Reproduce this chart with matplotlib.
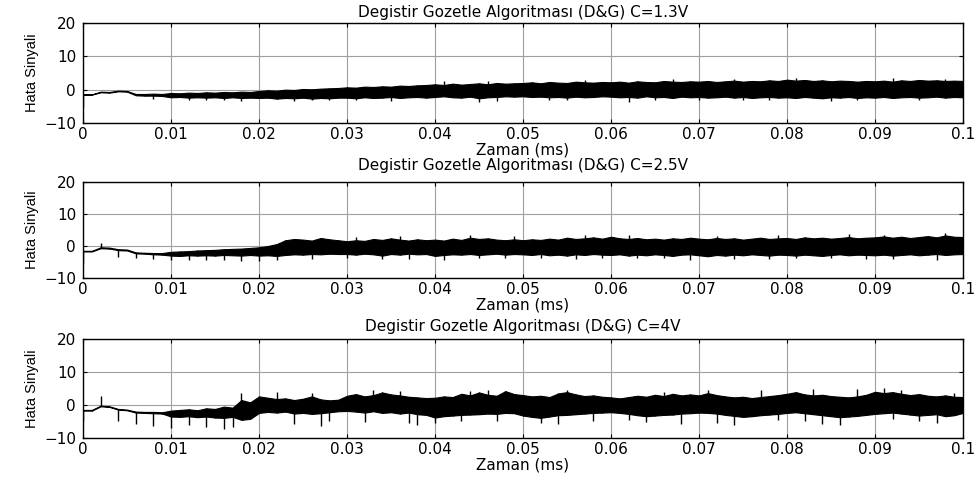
import numpy as np
import matplotlib
matplotlib.use("Agg")
import matplotlib.pyplot as plt

plt.rcParams['font.family'] = ['DejaVu Sans']

# sample times of the envelope (ms), one every 0.001 ms
t = np.arange(101) * 0.001

x_ticks = [0, 0.01, 0.02, 0.03, 0.04, 0.05, 0.06, 0.07, 0.08, 0.09, 0.1]
x_labels = ["0", "0.01", "0.02", "0.03", "0.04", "0.05", "0.06", "0.07", "0.08", "0.09", "0.1"]
y_ticks = [-10, 0, 10, 20]

titles = ["Degistir Gozetle Algoritması (D&G) C=1.3V",
          "Degistir Gozetle Algoritması (D&G) C=2.5V",
          "Degistir Gozetle Algoritması (D&G) C=4V"]

# C=1.3V : upper / lower envelope of the error signal
hi_13 = [-1.4, -1.4, -0.6, -0.7, -0.3, -0.4, -1.3, -1.3, -1.2, -1.3,
         -1.0, -1.1, -0.9, -1.0, -0.8, -0.9, -0.7, -0.8, -0.6, -0.7,
         -0.4, -0.2, -0.3, 0.0, -0.1, 0.2, 0.1, 0.3, 0.4, 0.5,
         0.7, 0.6, 0.9, 0.8, 1.0, 0.9, 1.2, 1.1, 1.3, 1.4,
         1.6, 1.4, 1.8, 1.5, 1.7, 1.9, 1.6, 2.0, 1.8, 1.9,
         2.0, 2.2, 1.9, 2.3, 2.1, 2.0, 2.4, 2.2, 2.1, 2.3,
         2.2, 2.4, 2.1, 2.5, 2.3, 2.2, 2.6, 2.4, 2.3, 2.5,
         2.4, 2.6, 2.3, 2.5, 2.7, 2.4, 2.6, 2.5, 2.8, 2.6,
         3.0, 2.7, 2.9, 2.6, 2.8, 2.5, 2.7, 2.6, 2.4, 2.6,
         2.5, 2.7, 2.4, 2.8, 2.6, 2.9, 2.7, 2.8, 2.6, 2.7,
         2.6]
lo_13 = [-1.5, -1.5, -0.8, -0.9, -0.5, -0.6, -1.7, -1.8, -1.8, -1.9,
         -2.3, -2.2, -2.4, -2.3, -2.4, -2.3, -2.5, -2.3, -2.5, -2.4,
         -2.5, -2.4, -2.7, -2.5, -2.6, -2.4, -2.7, -2.5, -2.6, -2.4,
         -2.4, -2.6, -2.3, -2.5, -2.4, -2.2, -2.5, -2.3, -2.2, -2.4,
         -2.2, -2.0, -2.3, -2.4, -2.1, -2.6, -2.3, -2.2, -2.0, -2.1,
         -2.0, -2.2, -2.1, -2.3, -2.2, -2.4, -2.1, -2.3, -2.2, -2.0,
         -2.1, -2.3, -2.2, -2.4, -2.0, -2.3, -2.2, -2.5, -2.1, -2.3,
         -2.2, -2.4, -2.3, -2.1, -2.4, -2.2, -2.5, -2.3, -2.2, -2.4,
         -2.3, -2.5, -2.2, -2.4, -2.6, -2.3, -2.4, -2.2, -2.5, -2.3,
         -2.4, -2.2, -2.5, -2.3, -2.2, -2.4, -2.3, -2.1, -2.4, -2.2,
         -2.3]
spike_t_13 = [0.0, 0.008, 0.012, 0.014, 0.016, 0.018, 0.024, 0.026, 0.028,
              0.031, 0.035, 0.041, 0.045, 0.046, 0.047, 0.053, 0.055, 0.057,
              0.062, 0.065, 0.067, 0.070, 0.074, 0.075, 0.078, 0.081, 0.085,
              0.088, 0.092, 0.095, 0.098]
spike_v_13 = [-5.2, -2.8, -3.0, -3.2, -3.0, -3.3, -3.5, -3.2, -3.1,
              -3.0, -3.3, 2.6, -3.6, 2.5, -3.3, -3.1, -3.2, 3.0,
              -3.7, -3.0, 3.2, -3.0, 3.3, -3.2, -3.2, 3.6, -3.4,
              -3.1, 3.6, -3.0, 3.2]

# C=2.5V
hi_25 = [-1.5, -1.5, -0.4, -0.5, -1.0, -1.1, -2.0, -2.1, -2.2, -2.2,
         -1.8, -1.7, -1.6, -1.4, -1.3, -1.2, -1.0, -0.9, -0.8, -0.6,
         -0.4, 0.0, 0.6, 1.8, 2.2, 2.0, 1.7, 2.5, 2.1, 1.8,
         1.5, 1.8, 1.6, 2.2, 1.9, 2.4, 2.0, 1.7, 2.1, 1.8,
         2.0, 1.7, 2.3, 1.9, 2.6, 2.2, 2.4, 2.0, 1.8, 2.1,
         1.8, 2.1, 1.9, 2.3, 2.0, 2.6, 2.2, 2.4, 2.7, 2.3,
         2.9, 2.4, 2.2, 2.5, 2.1, 2.3, 2.0, 2.4, 2.2, 2.6,
         2.3, 2.1, 2.5, 2.2, 2.4, 2.0, 2.3, 2.6, 2.2, 2.4,
         2.5, 2.2, 2.7, 2.4, 2.6, 2.3, 2.5, 2.8, 2.4, 2.6,
         2.7, 3.0, 2.6, 2.9, 2.5, 2.8, 3.1, 2.7, 3.3, 2.9,
         2.8]
lo_25 = [-1.7, -1.7, -0.7, -0.8, -1.3, -1.4, -2.3, -2.4, -2.6, -2.7,
         -3.0, -3.1, -2.9, -3.0, -2.9, -3.0, -2.8, -2.9, -3.0, -2.8,
         -3.0, -2.9, -3.1, -2.8, -2.6, -2.7, -2.5, -2.6, -2.4, -2.5,
         -2.5, -2.7, -2.4, -2.6, -3.0, -2.5, -2.7, -2.4, -2.6, -2.5,
         -3.1, -2.8, -2.6, -2.7, -2.5, -2.8, -2.6, -2.4, -2.7, -2.5,
         -2.6, -2.8, -2.5, -2.9, -2.7, -3.0, -2.6, -2.8, -2.5, -2.7,
         -2.8, -2.6, -3.0, -2.7, -2.9, -2.6, -2.8, -3.1, -2.7, -2.6,
         -2.9, -3.2, -2.8, -3.0, -2.7, -2.9, -2.6, -2.8, -3.0, -2.7,
         -2.8, -3.0, -2.7, -2.9, -3.1, -2.8, -2.6, -2.9, -2.7, -2.8,
         -2.9, -2.7, -3.0, -2.8, -2.6, -2.9, -2.7, -2.5, -2.8, -2.6,
         -2.5]
spike_t_25 = [0.0, 0.002, 0.004, 0.006, 0.008, 0.010, 0.012, 0.014, 0.016,
              0.018, 0.020, 0.022, 0.026, 0.030, 0.031, 0.034, 0.036, 0.037,
              0.041, 0.044, 0.045, 0.048, 0.049, 0.052, 0.056, 0.057, 0.059,
              0.062, 0.063, 0.066, 0.069, 0.072, 0.074, 0.078, 0.079, 0.081,
              0.085, 0.087, 0.089, 0.091, 0.092, 0.097, 0.098]
spike_v_25 = [-5.3, 0.9, -3.4, -3.8, -4.2, -4.5, -4.4, -4.3, -4.5,
              -4.6, -4.7, -4.3, -4.0, -3.8, 2.8, -4.2, 3.1, -4.0,
              -4.3, 3.5, -3.8, -3.9, 3.2, -3.9, -4.1, 3.3, -3.6,
              3.4, -3.9, -3.7, -4.3, 3.1, -4.1, -4.0, 3.3, -3.8,
              -3.9, 3.6, -4.0, 3.5, -4.2, -4.5, 4.2]

# C=4V
hi_4 = [-1.5, -1.5, -0.2, -0.4, -1.2, -1.4, -2.0, -2.1, -2.1, -2.2,
        -1.7, -1.5, -1.3, -1.6, -1.0, -1.2, -0.5, -0.8, 1.5, 0.8,
        2.6, 2.2, 1.8, 2.0, 1.5, 1.9, 2.6, 1.7, 1.4, 1.6,
        2.8, 3.3, 2.6, 3.0, 3.8, 3.2, 2.9, 2.5, 2.3, 2.1,
        2.2, 2.6, 2.4, 3.4, 2.9, 3.8, 3.1, 2.8, 4.2, 3.3,
        3.0, 2.6, 2.8, 2.4, 3.5, 3.9, 3.2, 2.7, 2.9, 2.5,
        2.3, 2.0, 2.4, 2.8, 2.5, 3.1, 2.7, 3.4, 2.9, 3.2,
        2.9, 3.6, 3.0, 2.6, 2.3, 2.5, 2.1, 2.4, 2.7, 3.0,
        3.4, 3.9, 3.2, 2.9, 3.1, 2.7, 2.5, 2.3, 2.6, 3.1,
        4.0, 3.6, 3.9, 3.4, 3.0, 3.3, 2.8, 2.6, 2.9, 2.5,
        2.4]
lo_4 = [-1.7, -1.7, -0.4, -0.6, -1.4, -1.6, -2.3, -2.4, -2.5, -2.6,
        -3.5, -3.6, -3.4, -3.7, -3.5, -3.8, -3.9, -3.6, -4.5, -4.2,
        -2.4, -2.1, -2.3, -2.0, -2.6, -2.4, -2.7, -2.5, -2.2, -1.9,
        -1.8, -2.0, -2.3, -1.9, -2.4, -2.2, -2.6, -2.3, -2.8, -3.0,
        -3.8, -3.4, -3.2, -3.0, -2.9, -2.8, -2.6, -2.7, -2.4, -2.5,
        -3.2, -3.6, -3.9, -3.5, -3.1, -3.0, -2.8, -2.6, -2.4, -2.3,
        -2.2, -2.4, -2.7, -3.1, -3.4, -3.2, -3.0, -2.9, -2.6, -2.5,
        -2.3, -2.4, -2.6, -3.0, -3.3, -3.6, -3.4, -3.1, -2.9, -2.7,
        -2.4, -2.2, -2.5, -2.8, -3.1, -3.4, -3.7, -3.5, -3.3, -3.0,
        -2.7, -2.5, -2.3, -2.6, -2.9, -3.2, -3.0, -2.8, -3.4, -3.1,
        -2.4]
spike_t_4 = [0.0, 0.002, 0.004, 0.006, 0.008, 0.010, 0.012, 0.014, 0.016,
             0.017, 0.018, 0.022, 0.024, 0.026, 0.027, 0.028, 0.032, 0.033,
             0.036, 0.037, 0.038, 0.040, 0.043, 0.044, 0.046, 0.047, 0.052,
             0.054, 0.055, 0.058, 0.062, 0.064, 0.066, 0.068, 0.071, 0.072,
             0.074, 0.077, 0.079, 0.082, 0.083, 0.084, 0.086, 0.088, 0.091,
             0.092, 0.093, 0.095, 0.097, 0.099]
spike_v_4 = [-5.0, 2.7, -4.8, -5.8, -6.4, -7.0, -6.2, -6.6, -7.3,
             -6.8, 3.5, 3.8, -5.8, 3.6, -6.3, -5.0, -5.2, 4.5,
             4.2, -5.5, -6.0, -5.5, -5.0, 4.3, 4.6, -4.8, -5.5,
             -5.9, 4.4, -4.9, -4.6, -5.2, 4.0, -5.7, 4.6, -5.6,
             -6.0, 4.4, -4.5, -5.0, 4.9, -5.8, -6.1, 4.8, 5.0,
             -4.3, 4.6, -4.9, -5.5, 3.6]

series = [(hi_13, lo_13, spike_t_13, spike_v_13),
          (hi_25, lo_25, spike_t_25, spike_v_25),
          (hi_4, lo_4, spike_t_4, spike_v_4)]

# axes boxes in figure fractions (left, bottom, width, height)
boxes = [(0.0849, 0.7438, 0.8998, 0.2083),
         (0.0849, 0.4208, 0.8998, 0.2000),
         (0.0849, 0.0875, 0.8998, 0.2063)]
title_pads = [4.5, 8.5, 6.0]

fig = plt.figure(figsize=(9.78, 4.8), dpi=100)

for box, title, tpad, (hi, lo, sp_t, sp_v) in zip(boxes, titles, title_pads, series):
    ax = fig.add_axes(box)
    ax.fill_between(t, lo, hi, color='black', lw=0.8, zorder=3)
    ax.vlines(t, lo, hi, color='black', lw=1.0, zorder=3)
    base = np.interp(sp_t, t, (np.array(hi) + np.array(lo)) / 2)
    ax.vlines(sp_t, np.minimum(sp_v, base), np.maximum(sp_v, base),
              color='black', lw=1.0, zorder=3)

    ax.set_xlim(0, 0.1)
    ax.set_ylim(-10, 20)
    ax.set_xticks(x_ticks)
    ax.set_xticklabels(x_labels)
    ax.set_yticks(y_ticks)
    ax.tick_params(direction='in', length=3, width=0.8, labelsize=11,
                   top=True, right=True)
    ax.tick_params(axis='x', pad=3)
    ax.tick_params(axis='y', pad=5)
    ax.grid(True, color='#a0a0a0', lw=0.8)
    ax.set_axisbelow(True)
    for s in ax.spines.values():
        s.set_linewidth(1.0)
    ax.set_title(title, fontsize=11, pad=tpad)
    ax.set_xlabel("Zaman (ms)", fontsize=11, labelpad=0)
    ax.set_ylabel("Hata Sinyali", fontsize=10.5, labelpad=4,
                  family=['Liberation Sans'])

fig.savefig("out.png", dpi=100)
